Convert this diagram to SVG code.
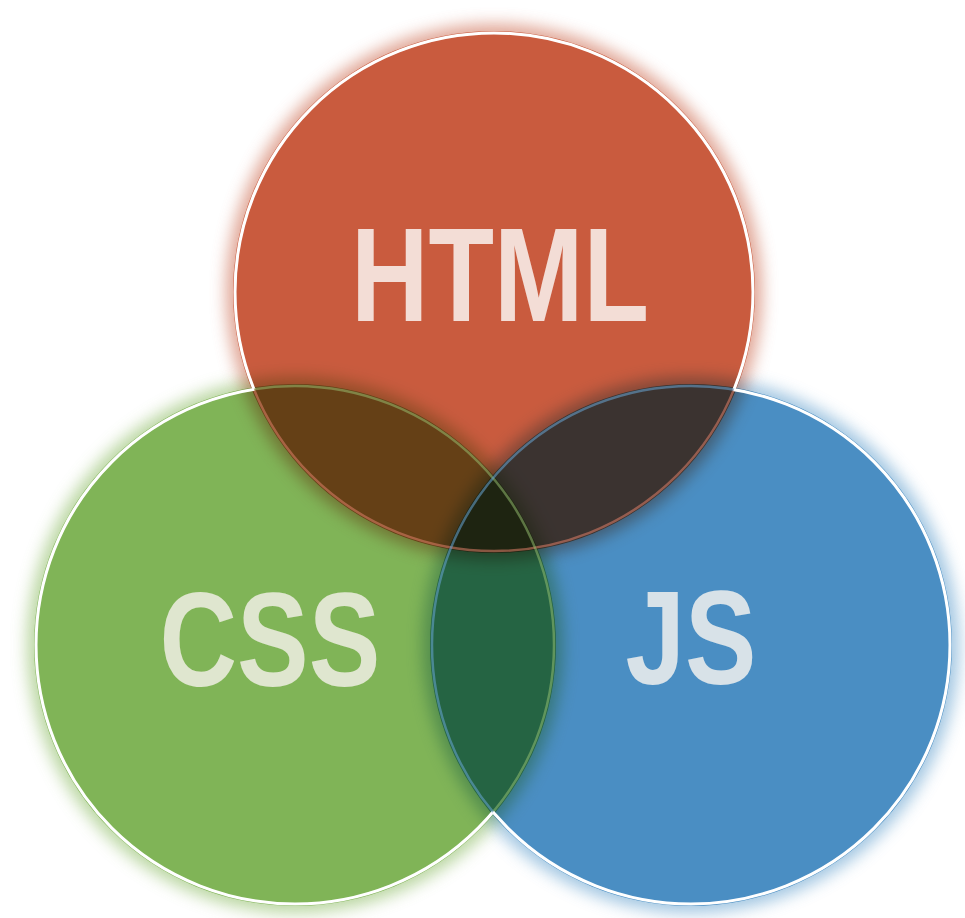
<svg xmlns="http://www.w3.org/2000/svg" width="965" height="918" viewBox="0 0 965 918">
  <defs>
    <style>
      .blend { mix-blend-mode: multiply; }
      .ring { fill: none; stroke: #ffffff; stroke-width: 3; }
      .label { font-family: "Liberation Sans", Arial, Helvetica, sans-serif; font-weight: bold; font-size: 134px; text-anchor: middle; }
    </style>
    <filter id="glow" x="-20%" y="-20%" width="140%" height="140%">
      <feGaussianBlur stdDeviation="8"/>
    </filter>
    <mask id="mHtml" maskUnits="userSpaceOnUse" x="0" y="0" width="965" height="918">
      <rect x="0" y="0" width="965" height="918" fill="#fff"/>
      <circle cx="295" cy="645" r="259" fill="#000"/>
      <circle cx="691" cy="645" r="259" fill="#000"/>
    </mask>
    <mask id="mCss" maskUnits="userSpaceOnUse" x="0" y="0" width="965" height="918">
      <rect x="0" y="0" width="965" height="918" fill="#fff"/>
      <circle cx="494" cy="292" r="259" fill="#000"/>
      <circle cx="691" cy="645" r="259" fill="#000"/>
    </mask>
    <mask id="mJs" maskUnits="userSpaceOnUse" x="0" y="0" width="965" height="918">
      <rect x="0" y="0" width="965" height="918" fill="#fff"/>
      <circle cx="494" cy="292" r="259" fill="#000"/>
      <circle cx="295" cy="645" r="259" fill="#000"/>
    </mask>
  </defs>
  <rect x="0" y="0" width="965" height="918" fill="#ffffff"/>

  <g id="circles" style="isolation:isolate">
    <g id="html-fill" class="blend">
      <circle cx="494" cy="292" r="268" fill="#d9907c" opacity="0.8" filter="url(#glow)"/>
      <circle cx="494" cy="292" r="261" fill="#c95b3e"/>
    </g>
    <g id="css-fill" class="blend">
      <circle cx="295" cy="645" r="268" fill="#a9cc8a" opacity="0.8" filter="url(#glow)"/>
      <circle cx="295" cy="645" r="261" fill="#80b457"/>
    </g>
    <g id="js-fill" class="blend">
      <circle cx="691" cy="645" r="268" fill="#8ab8da" opacity="0.8" filter="url(#glow)"/>
      <circle cx="691" cy="645" r="261" fill="#4a8ec3"/>
    </g>
  </g>

  <g id="connectors"></g>

  <g id="html">
    <circle cx="494" cy="292" r="259" fill="none" stroke="#e0806a" stroke-opacity="0.55" stroke-width="2.5"/>
    <circle class="ring" cx="494" cy="292" r="259" mask="url(#mHtml)"/>
    <text class="label" x="500" y="321" textLength="298" lengthAdjust="spacingAndGlyphs" fill="#f3ddd6">HTML</text>
  </g>
  <g id="css">
    <circle cx="295" cy="645" r="259" fill="none" stroke="#9cc676" stroke-opacity="0.5" stroke-width="2.5"/>
    <circle class="ring" cx="295" cy="645" r="259" mask="url(#mCss)"/>
    <text class="label" x="270" y="686" textLength="221" lengthAdjust="spacingAndGlyphs" fill="#dfe6cf">CSS</text>
  </g>
  <g id="js">
    <circle cx="691" cy="645" r="259" fill="none" stroke="#6aa6d6" stroke-opacity="0.55" stroke-width="2.5"/>
    <circle class="ring" cx="691" cy="645" r="259" mask="url(#mJs)"/>
    <text class="label" x="691" y="684" textLength="131" lengthAdjust="spacingAndGlyphs" fill="#d8e2e8">JS</text>
  </g>
</svg>
